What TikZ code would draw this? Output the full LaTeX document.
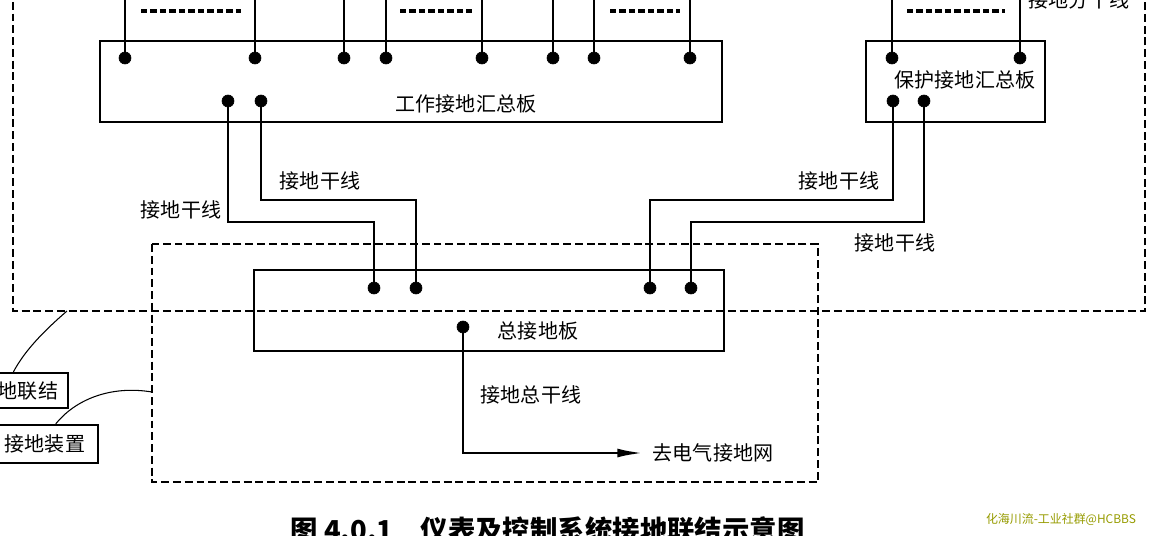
\documentclass[tikz,border=0pt]{standalone}
\usepackage{fontspec}
\setmainfont{Noto Sans CJK SC}
\usetikzlibrary{arrows.meta}

\newcommand*{\picw}{1150}
\newcommand*{\pich}{535}
\definecolor{mark}{RGB}{150,155,0}

\begin{document}
\begin{tikzpicture}
[
	x=0.02cm,y=-0.02cm,
	board/.style={draw,line width=1.5pt,inner sep=0pt},
	dot/.style={circle,draw,fill,inner sep=0pt,minimum size=6.8pt},
	wire/.style={line width=1.6pt},
	zone/.style={line width=1.5pt,dash pattern=on 4.5pt off 2.2pt},
	cont/.style={line width=2pt,dash pattern=on 3.6pt off 1.8pt},
	lbl/.style={inner sep=0pt,font=\fontsize{11.4pt}{13pt}\selectfont},
	tag/.style={draw,line width=1.3pt,inner sep=0pt,font=\fontsize{11.4pt}{13pt}\selectfont}
]

	\path[use as bounding box,clip] (0,0) rectangle (\picw,\pich);
	\coordinate (top) at (0,-10);
	\coordinate (bendhigh) at (0,200);
	\coordinate (bendlow) at (0,222);

	% dashed zones
	\draw[zone] (13,-10) -- (13,311) -- (1145,311) -- (1145,-10);
	\draw[zone] (152,244) rectangle (818,482);

	% boards
	\node[board,minimum width=12.44cm,minimum height=1.62cm] (work) at (411,81.5) {};
	\node[board,minimum width=3.58cm,minimum height=1.62cm] (prot) at (955.5,81.5) {};
	\node[board,minimum width=9.4cm,minimum height=1.62cm] (main) at (489,310.5) {};
	\node[lbl] (worklbl) at (466,104) {工作接地汇总板};
	\node[lbl] (protlbl) at (965,80) {保护接地汇总板};
	\node[lbl] (mainlbl) at (538,331) {总接地板};

	% branch lines from above
	\foreach \n/\x in {1/125,2/255,3/344,4/386,5/482,6/553,7/594,8/690}{
		\node[dot] (w\n) at (\x,58) {};
		\draw[wire] (w\n) -- (w\n |- top);
	}
	\node[dot] (p1) at (892,58) {};
	\node[dot] (p2) at (1020,58) {};
	\draw[wire] (p1) -- (p1 |- top);
	\draw[wire] (p2) -- (p2 |- top);
	\draw[cont] (141,11) -- (241,11);
	\draw[cont] (400,11) -- (472,11);
	\draw[cont] (610,11) -- (680,11);
	\draw[cont] (907,11) -- (1005,11);
	\node[lbl] (branchlbl) at (1079,0) {接地分干线};

	% trunk lines
	\node[dot] (wa) at (228,101) {};
	\node[dot] (wb) at (261,101) {};
	\node[dot] (pa) at (893,101) {};
	\node[dot] (pb) at (924,101) {};
	\node[dot] (m1) at (374,288) {};
	\node[dot] (m2) at (416,288) {};
	\node[dot] (m3) at (650,288) {};
	\node[dot] (m4) at (691,288) {};
	\draw[wire] (wa) -- (wa |- bendlow) -| (m1);
	\draw[wire] (wb) -- (wb |- bendhigh) -| (m2);
	\draw[wire] (pa) -- (pa |- bendhigh) -| (m3);
	\draw[wire] (pb) -- (pb |- bendlow) -| (m4);
	\node[lbl] (trunk1) at (181,210) {接地干线};
	\node[lbl] (trunk2) at (320,181) {接地干线};
	\node[lbl] (trunk3) at (839,181) {接地干线};
	\node[lbl] (trunk4) at (895,243) {接地干线};

	% main earth lead
	\node[dot] (m5) at (463,327) {};
	\node[lbl,inner xsep=5pt] (grid) at (713,453) {去电气接地网};
	\draw[wire,-{Latex[length=15pt,width=5pt]}] (m5) |- (grid.west);
	\node[lbl] (leadlbl) at (531,395) {接地总干线};

	% side tags
	\node[tag,minimum width=1.6cm,minimum height=0.7cm] (bond) at (28,390.5) {地联结};
	\node[tag,minimum width=2.12cm,minimum height=0.76cm] (earth) at (45,444) {接地装置};
	\coordinate (bondpt) at (67,311);
	\coordinate (earthpt) at (152,392);
	\draw[line width=0.6pt] (bondpt) .. controls (45,330) and (25,350) .. (bond.128);
	\draw[line width=0.6pt] (earthpt) .. controls (110,385) and (75,400) .. (earth.62);

	% caption
	\node[anchor=west,inner sep=0pt,font=\fontsize{15.6pt}{18pt}\selectfont\bfseries] (caption) at (290,530) {图 4.0.1\quad 仪表及控制系统接地联结示意图};
	\node[inner sep=0pt,text=mark,font=\fontsize{6.8pt}{8pt}\selectfont] (wm) at (1061,519) {化海川流-工业社群@HCBBS};

\end{tikzpicture}
\end{document}
